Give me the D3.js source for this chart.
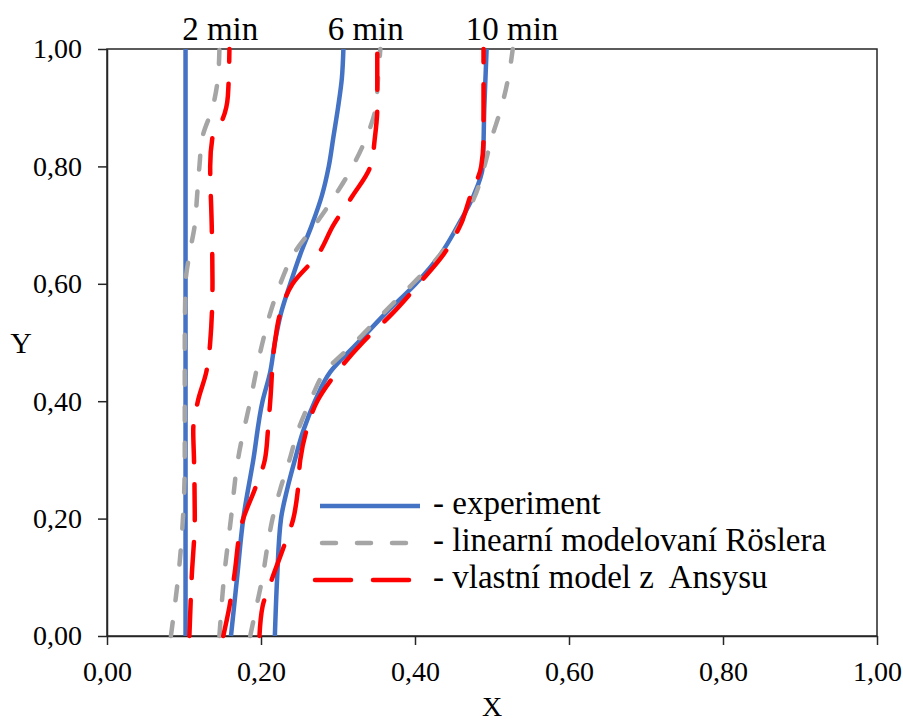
<!DOCTYPE html>
<html lang="cs">
    <head>
        <meta charset="utf-8">
        <title>Profily X-Y</title>
        <script type="text/javascript" src="https://cdn.jsdelivr.net/npm/d3@7"></script>
        <style type="text/css">
            body { margin: 0; background: #fff; }
            text { font-family: "Liberation Serif", "Times New Roman", serif; fill: #000; }
        </style>
    </head>
    <body>
        <script type="text/javascript">

        //Width and height
          var w = 903;
          var h = 724;
          var padLeft = 107, padRight = 877, padTop = 49, padBottom = 636;

          //Tick values
          var ticks = [0, 0.2, 0.4, 0.6, 0.8, 1.0];

          //Time labels above the curves
          var times = ["2 min", "6 min", "10 min"];

          //Legend labels
          var legendLabels = ["- experiment", "- linearní modelovaní Röslera", "- vlastní model z  Ansysu"];

          //2 min
          var exp2Y = [0, 0.5, 1];
          var exp2X = [0.102, 0.102, 0.102];
          var ros2Y = [0, 0.15, 0.3, 0.5, 0.6, 0.65, 0.7, 0.75, 0.8, 0.85, 0.9, 0.95, 1];
          var ros2X = [0.083, 0.096, 0.101, 0.101, 0.102, 0.107, 0.114, 0.117, 0.120, 0.124, 0.137, 0.144, 0.146];
          var ans2Y = [0, 0.1, 0.2, 0.3, 0.35, 0.4, 0.45, 0.5, 0.6, 0.7, 0.8, 0.85, 0.88, 0.92, 1];
          var ans2X = [0.107, 0.110, 0.114, 0.113, 0.112, 0.118, 0.129, 0.134, 0.137, 0.136, 0.134, 0.137, 0.150, 0.157, 0.159];

          //6 min
          var exp6Y = [0, 0.1, 0.2, 0.3, 0.4, 0.45, 0.5, 0.55, 0.6, 0.65, 0.7, 0.75, 0.8, 0.85, 0.9, 0.95, 1];
          var exp6X = [0.161, 0.169, 0.177, 0.190, 0.202, 0.212, 0.218, 0.226, 0.238, 0.251, 0.266, 0.279, 0.288, 0.294, 0.300, 0.305, 0.307];
          var ros6Y = [0, 0.1, 0.2, 0.3, 0.4, 0.5, 0.55, 0.6, 0.65, 0.7, 0.75, 0.8, 0.85, 0.9, 0.95, 1];
          var ros6X = [0.146, 0.152, 0.161, 0.170, 0.186, 0.202, 0.212, 0.225, 0.242, 0.270, 0.296, 0.319, 0.337, 0.349, 0.352, 0.355];
          var ans6Y = [0, 0.05, 0.1, 0.2, 0.25, 0.3, 0.35, 0.4, 0.5, 0.55, 0.6, 0.65, 0.7, 0.75, 0.8, 0.85, 0.9, 1];
          var ans6X = [0.151, 0.159, 0.165, 0.177, 0.192, 0.205, 0.209, 0.212, 0.218, 0.225, 0.241, 0.274, 0.294, 0.319, 0.342, 0.348, 0.351, 0.351];

          //10 min
          var exp10Y = [0, 0.1, 0.2, 0.25, 0.3, 0.35, 0.4, 0.45, 0.5, 0.55, 0.6, 0.65, 0.7, 0.75, 0.8, 0.9, 1];
          var exp10X = [0.218, 0.221, 0.226, 0.234, 0.244, 0.255, 0.270, 0.290, 0.326, 0.362, 0.401, 0.433, 0.456, 0.476, 0.488, 0.490, 0.493];
          var ros10Y = [0, 0.05, 0.1, 0.15, 0.2, 0.25, 0.3, 0.35, 0.4, 0.45, 0.5, 0.55, 0.6, 0.65, 0.7, 0.75, 0.8, 0.85, 0.9, 0.95, 1];
          var ros10X = [0.186, 0.194, 0.202, 0.208, 0.215, 0.225, 0.237, 0.248, 0.264, 0.283, 0.322, 0.359, 0.397, 0.433, 0.458, 0.478, 0.490, 0.500, 0.512, 0.521, 0.527];
          var ans10Y = [0, 0.05, 0.1, 0.15, 0.2, 0.25, 0.3, 0.35, 0.4, 0.45, 0.5, 0.55, 0.6, 0.65, 0.7, 0.75, 0.8, 0.85, 1];
          var ans10X = [0.198, 0.202, 0.215, 0.229, 0.242, 0.248, 0.251, 0.259, 0.273, 0.299, 0.332, 0.371, 0.405, 0.437, 0.459, 0.472, 0.486, 0.489, 0.489];

          //line styles: experiment, Rösler, Ansys (round caps add to the dash length)
          var styles = [
              { color: "#4472C4", dash: null },
              { color: "#A5A5A5", dash: "14,22" },
              { color: "#FF0000", dash: "36,22" }
          ];

          //pair the x and y arrays into points
          function pts(xs, ys) {
              return xs.map(function(x, i) { return { x: x, y: ys[i] }; });
          }

          //blue first, then gray, then red on top
          var series = [
              { s: 0, d: pts(exp2X, exp2Y) }, { s: 0, d: pts(exp6X, exp6Y) }, { s: 0, d: pts(exp10X, exp10Y) },
              { s: 1, d: pts(ros2X, ros2Y) }, { s: 1, d: pts(ros6X, ros6Y) }, { s: 1, d: pts(ros10X, ros10Y) },
              { s: 2, d: pts(ans2X, ans2Y) }, { s: 2, d: pts(ans6X, ans6Y) }, { s: 2, d: pts(ans10X, ans10Y) }
          ];

          var xScale = d3.scaleLinear().domain([0, 1]).range([padLeft, padRight]);
          var yScale = d3.scaleLinear().domain([0, 1]).range([padBottom, padTop]);

          var fmt = function(d) { return d3.format(".2f")(d).replace(".", ","); };

          var svg = d3.select("body")
                      .append("svg")
                      .attr("width", w)
                      .attr("height", h);

          //frame
          svg.append("rect")
             .attr("x", padLeft)
             .attr("y", padTop)
             .attr("width", padRight - padLeft)
             .attr("height", padBottom - padTop)
             .attr("fill", "none")
             .attr("stroke", "#262626")
             .attr("stroke-width", 1.5);

          //axes
          var xAxis = svg.append("g")
             .attr("transform", "translate(0," + padBottom + ")")
             .call(d3.axisBottom(xScale).tickValues(ticks).tickFormat(fmt).tickSize(9).tickPadding(16).tickSizeOuter(0));
          var yAxis = svg.append("g")
             .attr("transform", "translate(" + padLeft + ",0)")
             .call(d3.axisLeft(yScale).tickValues(ticks).tickFormat(fmt).tickSize(9).tickPadding(16).tickSizeOuter(0));

          [xAxis, yAxis].forEach(function(a) {
              a.select(".domain").attr("stroke", "#262626").attr("stroke-width", 1.5);
              a.selectAll(".tick line").attr("stroke", "#262626").attr("stroke-width", 1.5);
              a.selectAll(".tick text")
               .attr("font-family", "Liberation Serif, Times New Roman, serif")
               .attr("font-size", "28px")
               .attr("fill", "#000");
          });

          //curves
          var line = d3.line()
                       .x(function(d) { return xScale(d.x); })
                       .y(function(d) { return yScale(d.y); })
                       .curve(d3.curveMonotoneY);

          svg.selectAll("path.curve")
             .data(series)
             .enter()
             .append("path")
             .attr("class", "curve")
             .attr("d", function(d) { return line(d.d); })
             .attr("fill", "none")
             .attr("stroke", function(d) { return styles[d.s].color; })
             .attr("stroke-width", 4.5)
             .attr("stroke-linecap", function(d) { return d.s == 0 ? "butt" : "round"; })
             .attr("stroke-dasharray", function(d) { return styles[d.s].dash; });

          //time labels
          var timeX = [0.147, 0.336, 0.526];
          svg.selectAll("text.time")
             .data(times)
             .enter()
             .append("text")
             .attr("class", "time")
             .attr("x", function(d, i) { return xScale(timeX[i]); })
             .attr("y", 40)
             .attr("text-anchor", "middle")
             .attr("font-size", "33px")
             .text(function(d) { return d; });

          //axis titles
          svg.append("text")
             .attr("x", (padLeft + padRight) / 2)
             .attr("y", 716)
             .attr("text-anchor", "middle")
             .attr("font-size", "28px")
             .text("X");
          svg.append("text")
             .attr("x", 21)
             .attr("y", 353)
             .attr("text-anchor", "middle")
             .attr("font-size", "30px")
             .text("Y");

          //legend
          var legStart = [320, 322, 315];
          var leg = svg.selectAll("g.leg")
             .data(legendLabels)
             .enter()
             .append("g")
             .attr("class", "leg")
             .attr("transform", function(d, i) { return "translate(0," + (506 + i * 37) + ")"; });

          leg.append("line")
             .attr("x1", function(d, i) { return legStart[i]; })
             .attr("x2", function(d, i) { return i == 0 ? 420 : 412; })
             .attr("y1", 0)
             .attr("y2", 0)
             .attr("stroke", function(d, i) { return styles[i].color; })
             .attr("stroke-width", 4.5)
             .attr("stroke-linecap", function(d, i) { return i == 0 ? "butt" : "round"; })
             .attr("stroke-dasharray", function(d, i) { return i == 1 ? "14,21" : styles[i].dash; });

          leg.append("text")
             .attr("x", 433)
             .attr("y", 8)
             .attr("font-size", "33px")
             .style("white-space", "pre")
             .text(function(d) { return d; });

        </script>
    </body>
</html>
